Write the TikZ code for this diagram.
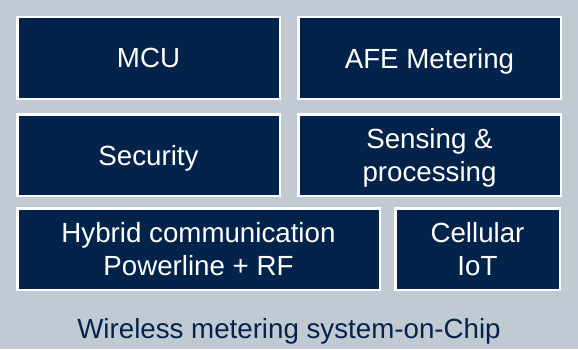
\documentclass[tikz,border=0pt]{standalone}
\usepackage{fontspec}
\setmainfont{Liberation Sans}
\usepackage{xcolor}
\usepackage{tikz}
\usetikzlibrary{positioning}
\definecolor{stnavy}{HTML}{03234B}
\definecolor{panelgray}{HTML}{C1C9D3}
\tikzset{
  block/.style={draw=white, line width=2.5pt, fill=stnavy, text=white,
  align=center, minimum height=81.5pt, inner sep=0pt, text depth=0pt,
  font=\fontsize{27.7}{33}\selectfont},
  halfblock/.style={block, minimum width=262.5pt},
  caption/.style={text=stnavy, inner sep=0pt, font=\fontsize{27.7}{33}\selectfont}
}
\begin{document}
\begin{tikzpicture}[node distance=13pt, x=1pt, y=1pt]
    \fill[panelgray] (0,0) rectangle (578,349);
    \useasboundingbox (0,0) rectangle (578,349);
    \node (mcu) [halfblock] at (148.5,291) {MCU};
    \node (afe) [halfblock, right=16pt of mcu] {AFE Metering};
    \node (sec) [halfblock, below=of mcu] {Security};
    \node (sens) [halfblock, below=of afe] {Sensing \&\\processing};
    \node (hyb) [block, minimum width=362.5pt, below right=10pt and 0pt of sec.south west]
    {Hybrid communication\\Powerline + RF};
    \node (cell) [block, minimum width=164.5pt, right=of hyb] {Cellular\\IoT};
    \node (soc) [caption, anchor=base] at (289,11) {Wireless metering system-on-Chip};
\end{tikzpicture}
\end{document}
